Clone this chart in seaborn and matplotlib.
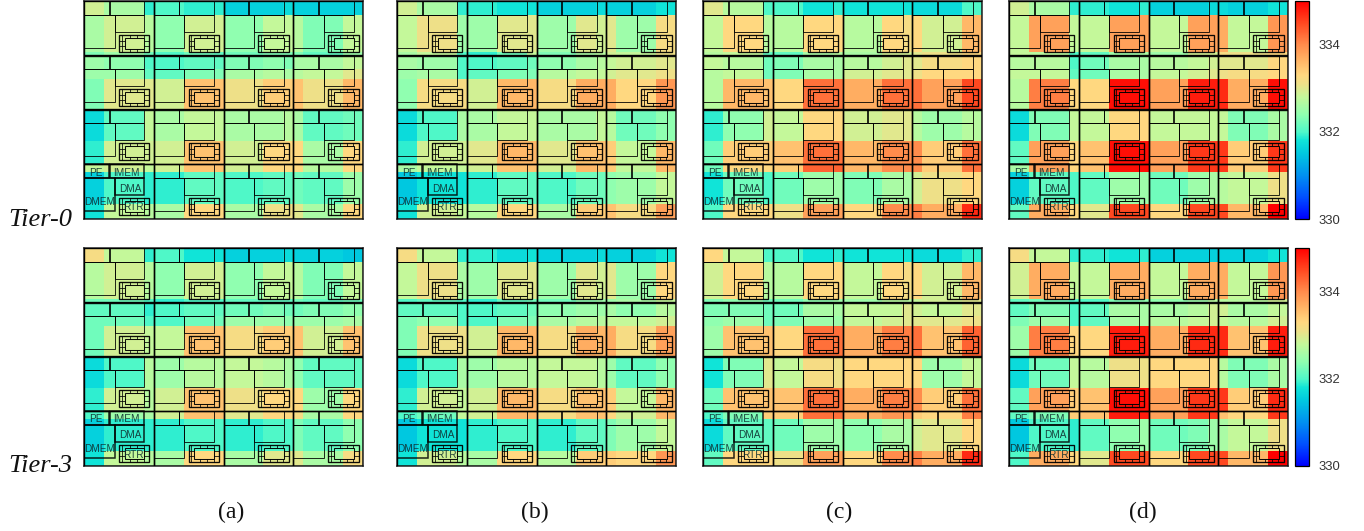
import numpy as np
import matplotlib
matplotlib.use("Agg")
import matplotlib.pyplot as plt
from matplotlib.colors import LinearSegmentedColormap
from matplotlib.patches import Rectangle
import seaborn as sns

# Temperatures as tenths of a kelvin above 330 K (rows top to bottom, columns left to right)
a_tier0 = [
    [29,26,19,20,19,19,16,16,17,16,16,16],
    [26,29,27,24,29,29,24,28,28,27,23,28],
    [23,25,22,20,22,21,22,23,23,23,21,25],
    [25,24,20,20,21,21,23,24,23,26,26,28],
    [25,25,21,21,23,23,26,27,26,27,28,30],
    [23,30,30,29,35,35,31,34,34,35,31,36],
    [17,21,28,26,28,28,26,26,27,26,21,22],
    [19,29,29,29,35,35,29,33,33,33,26,33],
    [28,29,28,29,35,35,29,33,33,33,27,33],
    [16,20,19,19,21,21,20,21,21,22,21,25],
    [18,28,27,26,33,33,26,31,31,30,26,33],
]
a_tier3 = [
    [32,28,19,20,18,18,16,16,17,16,16,15],
    [27,29,27,24,29,29,24,28,28,27,23,28],
    [22,22,20,19,20,20,21,21,21,22,21,22],
    [21,21,19,20,21,21,22,23,22,22,23,24],
    [22,22,20,20,22,22,25,25,24,25,25,26],
    [22,29,28,28,35,35,32,34,34,35,29,35],
    [17,20,27,25,27,27,28,27,26,24,21,21],
    [19,29,27,29,35,35,31,33,33,33,25,33],
    [20,25,26,29,35,35,30,33,33,32,26,33],
    [16,19,19,19,20,20,19,20,20,23,21,24],
    [18,28,27,26,33,33,26,30,30,30,26,32],
]
b_tier0 = [
    [29,26,19,19,18,18,16,16,17,16,16,18],
    [28,31,25,25,30,30,25,30,29,30,25,32],
    [26,28,20,19,22,28,23,26,27,29,28,31],
    [26,25,20,20,21,22,24,26,27,28,29,30],
    [25,26,20,21,23,23,27,28,28,29,30,31],
    [24,32,32,29,36,36,32,37,37,37,33,39],
    [17,20,26,26,28,28,26,26,28,27,22,24],
    [19,29,29,30,36,36,30,35,35,34,28,36],
    [26,28,28,29,35,35,29,36,35,34,28,36],
    [15,18,18,19,21,21,20,22,22,24,25,28],
    [18,29,28,27,33,33,26,34,34,35,32,38],
]
b_tier3 = [
    [32,28,19,19,17,18,16,16,17,16,16,18],
    [28,31,26,25,30,30,25,30,29,30,25,33],
    [20,21,20,19,21,22,22,24,25,25,26,28],
    [21,21,20,20,21,22,24,25,25,26,24,27],
    [23,24,20,20,23,23,26,27,27,28,28,29],
    [23,31,31,29,36,36,32,37,36,37,32,38],
    [17,20,26,25,27,27,28,28,27,25,21,24],
    [19,29,28,29,36,36,32,35,35,34,28,36],
    [20,22,28,29,36,36,32,35,35,33,29,36],
    [15,18,18,19,20,20,19,21,21,23,25,28],
    [18,29,27,26,33,33,27,34,34,34,33,39],
]
c_tier0 = [
    [30,27,20,20,18,19,18,18,18,17,17,20],
    [28,33,27,27,33,33,27,33,32,33,29,36],
    [27,28,21,21,26,27,26,29,29,30,31,33],
    [28,27,22,23,26,26,27,29,30,30,32,33],
    [27,28,22,23,26,26,29,30,30,31,33,33],
    [27,36,35,33,42,42,37,42,42,42,38,45],
    [19,24,29,28,33,33,29,30,30,27,25,27],
    [22,34,34,35,42,42,36,40,40,40,34,42],
    [22,33,33,34,43,43,36,40,40,40,34,42],
    [18,22,20,22,25,25,23,26,26,29,31,33],
    [20,33,33,31,38,38,33,40,40,41,37,47],
]
c_tier3 = [
    [33,28,20,20,18,19,18,18,18,17,17,19],
    [29,33,27,27,33,33,28,33,32,33,29,36],
    [23,24,22,22,24,25,25,27,27,28,29,30],
    [23,23,22,22,26,26,28,28,30,29,28,30],
    [24,25,22,23,25,25,28,29,30,30,30,31],
    [25,35,35,33,42,42,37,41,41,42,35,43],
    [18,23,30,28,32,31,33,33,33,33,25,28],
    [22,35,35,35,42,42,37,41,41,40,34,42],
    [20,23,34,34,42,42,37,39,39,34,33,41],
    [17,21,21,22,25,25,24,26,26,29,30,33],
    [21,33,33,31,38,38,33,40,40,41,37,47],
]
d_tier0 = [
    [29,26,19,19,18,19,16,16,17,17,16,18],
    [28,38,28,28,38,38,28,38,38,37,28,39],
    [28,27,20,21,25,26,25,29,29,32,31,33],
    [27,27,20,22,26,26,27,28,29,30,30,33],
    [28,28,21,22,26,26,28,29,30,31,32,33],
    [27,41,33,33,49,49,38,48,48,47,37,49],
    [17,23,28,28,33,33,28,28,28,28,23,26],
    [21,38,33,35,49,49,38,46,46,46,34,46],
    [26,38,33,35,49,49,38,46,46,46,34,46],
    [16,21,20,21,25,25,22,25,26,27,28,31],
    [21,37,33,30,45,45,33,45,45,45,36,50],
]
d_tier3 = [
    [32,28,19,19,18,19,16,16,16,16,16,18],
    [29,37,28,28,37,37,28,37,37,37,28,39],
    [21,22,20,20,23,24,24,25,27,27,27,29],
    [21,23,20,21,26,26,26,27,29,29,26,28],
    [23,25,20,21,26,26,27,28,29,28,27,29],
    [25,41,33,33,48,48,37,47,47,47,35,48],
    [17,22,28,27,31,31,33,33,33,27,23,26],
    [21,38,34,35,49,49,38,46,46,46,34,47],
    [21,23,34,35,48,48,38,46,46,35,33,46],
    [15,20,19,21,24,25,22,23,25,26,28,31],
    [20,37,33,30,45,45,33,45,45,45,36,50],
]
tier_labels = ["Tier-0", "Tier-3"]
panel_labels = ["(a)", "(b)", "(c)", "(d)"]
cbar_ticks = [330, 332, 334]
block_labels = ["PE", "IMEM", "DMA", "DMEM", "RTR"]

# Layout (pixels)
W, H = 1364, 531
panel_x = [84, 397, 703, 1009]
panel_y = [1, 248]
panel_w, panel_h = 279, 218
row_spans = [14, 37, 3, 14, 10, 30, 32, 23, 8, 32, 15]
col_spans = [20, 40, 10, 30, 30, 10, 40, 20, 10, 10, 40, 20]
tile_x = [0, 70, 140, 210]
tile_y = [0, 54, 108, 163]
tile_w, tile_h = 70, 55

stops = [(0.0, "#0000ff"), (0.10, "#0050ff"), (0.20, "#0090f0"), (0.30, "#00c8e0"),
         (0.36, "#10e4d8"), (0.40, "#50f8c8"), (0.48, "#90ffb0"), (0.56, "#c4f89a"),
         (0.62, "#eee088"), (0.66, "#ffd880"), (0.72, "#ffb868"), (0.80, "#ff8c4c"),
         (0.90, "#ff4820"), (1.0, "#ff0000")]
cmap = LinearSegmentedColormap.from_list("thermal", stops, N=512)

sns.set_style("white")
fig = plt.figure(figsize=(W / 100, H / 100), dpi=100)
fig.patch.set_facecolor("white")


def axes_px(x, y, w, h):
    return fig.add_axes([x / W, 1 - (y + h) / H, w / W, h / H])


def rect(ax, x, y, w, h, lw=0.7, alpha=0.85):
    ax.add_patch(Rectangle((x, y), w, h, fill=False, ec="black", lw=lw, alpha=alpha, zorder=3))


def floorplan(ax, ox, oy, heavy=False):
    lw = 1.1 if heavy else 0.7
    rect(ax, ox, oy, tile_w, tile_h, lw=1.0, alpha=0.95)
    rect(ax, ox, oy, 25, 14, lw)               # PE
    rect(ax, ox + 25.7, oy, 35, 14, lw)        # IMEM
    rect(ax, ox + 30.7, oy + 14, 30, 16.5, lw) # DMA
    rect(ax, ox, oy + 14, 30.7, 32.5, lw)      # DMEM
    rx, ry, rw, rh = ox + 35, oy + 34, 30.5, 17
    ix, iy, iw, ih = ox + 40.7, oy + 37, 20, 11.3
    rect(ax, rx, ry, rw, rh, 0.95, 0.95)
    rect(ax, ix, iy, iw, ih, 0.75, 0.95)
    for dx in (11.5, 18.5, 25):
        ax.plot([rx + dx] * 2, [ry, iy], color="k", lw=0.55, zorder=3)
        ax.plot([rx + dx] * 2, [iy + ih, ry + rh], color="k", lw=0.55, zorder=3)
    for dy in (5.5, 11):
        ax.plot([rx, ix], [ry + dy] * 2, color="k", lw=0.55, zorder=3)
        ax.plot([ix + iw, rx + rw], [ry + dy] * 2, color="k", lw=0.55, zorder=3)
    ax.plot([rx + 2.8] * 2, [ry, ry + rh], color="k", lw=0.55, zorder=3)


def labels(ax, ox, oy):
    kw = dict(ha="center", va="center", family="Liberation Sans", fontsize=7.2,
              color="#103030", alpha=0.9, zorder=4)
    pos = [(12.3, 8.5), (43, 8.5), (46, 24.5), (15.5, 38), (50, 43.5)]
    for name, (dx, dy) in zip(block_labels, pos):
        ax.text(ox + dx, oy + dy, name, **kw)


grids = [[a_tier0, b_tier0, c_tier0, d_tier0], [a_tier3, b_tier3, c_tier3, d_tier3]]
for r, row in enumerate(grids):
    for c, values in enumerate(row):
        ax = axes_px(panel_x[c], panel_y[r], panel_w, panel_h)
        temps = 330 + np.array(values, dtype=float) / 10
        field = np.repeat(np.repeat(temps, row_spans, axis=0), col_spans, axis=1)
        draw_bar = c == 3
        cax = axes_px(1295, panel_y[r], 14, panel_h) if draw_bar else None
        sns.heatmap(field, ax=ax, cmap=cmap, vmin=330, vmax=335, cbar=draw_bar, cbar_ax=cax,
                    cbar_kws={"ticks": cbar_ticks} if draw_bar else None,
                    xticklabels=False, yticklabels=False, rasterized=True)
        mesh = ax.collections[0]
        ax.set_xlim(0, sum(col_spans))
        ax.set_ylim(sum(row_spans), 0)
        for j, oy in enumerate(tile_y):
            for i, ox in enumerate(tile_x):
                floorplan(ax, ox, oy, heavy=(i == 0 and j == 3))
        labels(ax, tile_x[0], tile_y[3])
        for s in ax.spines.values():
            s.set_visible(True)
            s.set_color("#222222")
            s.set_linewidth(1.1)
        ax.set_zorder(2)
        if draw_bar:
            cax.tick_params(length=0, labelsize=9.4, labelcolor="#333333", pad=7)
            for t in cax.get_yticklabels():
                t.set_family("Liberation Sans")
            cb = mesh.colorbar
            cb.outline.set_visible(True)
            cb.outline.set_edgecolor("black")
            cb.outline.set_linewidth(0.9)

for label, y in zip(tier_labels, [226.5, 472]):
    fig.text(8 / W, 1 - y / H, label, family="Liberation Serif", style="italic",
             fontsize=19, ha="left", va="baseline", color="#111111")
for label, x in zip(panel_labels, [231, 535, 839, 1143]):
    fig.text(x / W, 1 - 512 / H, label, family="Liberation Serif", fontsize=17,
             ha="center", va="center", color="#111111")

fig.savefig("out.png", dpi=100)
